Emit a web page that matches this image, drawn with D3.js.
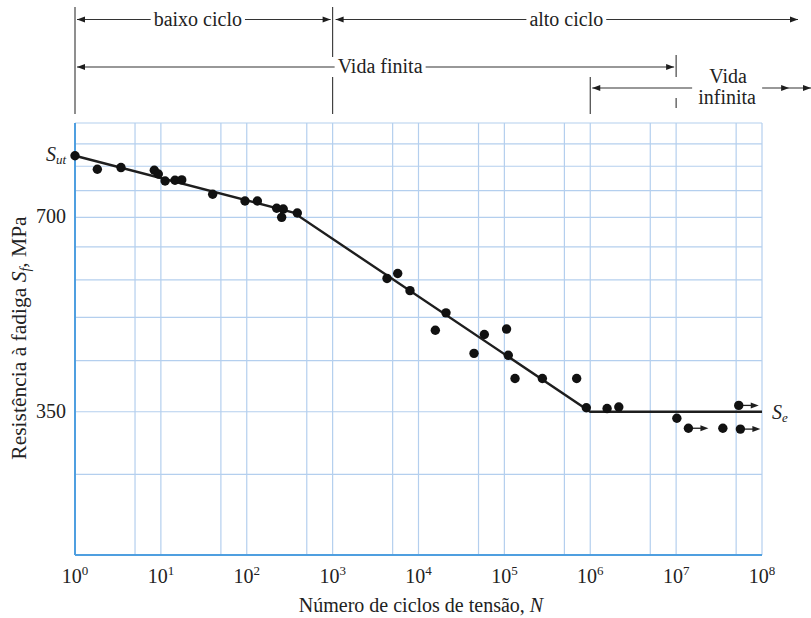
<!DOCTYPE html>
<html>
<head>
<meta charset="utf-8">
<script src="https://cdn.jsdelivr.net/npm/d3@7"></script>
<style>
  body { margin: 0; background: #fff; }
  svg { display: block; }
  text { font-family: "Liberation Serif", "DejaVu Serif", serif; fill: #222; }
</style>
</head>
<body>
<div id="chart"></div>
<script>
// axis / grid values
const decades = [1, 1e1, 1e2, 1e3, 1e4, 1e5, 1e6, 1e7, 1e8];
const halfDecades = [5, 5e1, 5e2, 5e3, 5e4, 5e5, 5e6, 5e7];
const stressGrid = [210, 280, 350, 420, 490, 560, 630, 700, 770, 840, 910, 980];
const stressTicks = [700, 350];

// fitted S-N curve (MPa)
const Sut = 872, Se = 350;
const curveN = [1, 350, 1e6, 1e8];
const curveS = [872, 712, 350, 350];

// test results
const testN = [1, 1.82, 3.43, 8.38, 9.33, 11.2, 14.6, 17.5, 40.1, 95.4, 133, 223, 266, 255, 388,
  4300, 5725, 7960, 20900, 15700, 58400, 106000, 44300, 111000, 133000, 277000, 695000,
  900000, 1.57e6, 2.15e6, 1.02e7, 3.5e7];
const testS = [872, 831, 836, 828, 817, 797, 799, 800, 760, 742, 742, 723, 721, 700, 711,
  563, 573, 539, 498, 468, 461, 470, 431, 428, 394, 394, 394,
  355, 354, 356, 342, 330];
// runouts (no failure)
const runoutN = [1.39e7, 5.6e7, 5.36e7];
const runoutS = [330, 329, 358];

const W = 811, H = 618;
const svg = d3.select('#chart').append('svg').attr('width', W).attr('height', H);

const x = d3.scaleLog().domain([1, 1e8]).range([75, 762]);
const y = d3.scaleLog().domain([210, 980]).range([555, 123]);

const gridCol = '#b4cfee', axisCol = '#4f9fe0', ink = '#1e1e1e';
const fs = 20;

// grid
const grid = svg.append('g');
grid.selectAll('line.v')
  .data(decades.concat(halfDecades))
  .enter().append('line')
    .attr('x1', d => x(d)).attr('x2', d => x(d))
    .attr('y1', y(980)).attr('y2', y(210))
    .attr('stroke', gridCol).attr('stroke-width', 1.2);
grid.selectAll('line.h')
  .data(stressGrid)
  .enter().append('line')
    .attr('x1', x(1)).attr('x2', x(1e8))
    .attr('y1', d => y(d)).attr('y2', d => y(d))
    .attr('stroke', gridCol).attr('stroke-width', 1.2);

// axes lines
svg.append('line').attr('x1', x(1)).attr('x2', x(1))
  .attr('y1', y(980)).attr('y2', y(210)).attr('stroke', axisCol).attr('stroke-width', 2);
svg.append('line').attr('x1', x(1)).attr('x2', x(1e8))
  .attr('y1', y(210)).attr('y2', y(210)).attr('stroke', axisCol).attr('stroke-width', 2);

// x tick labels 10^k
const xl = svg.append('g').attr('font-size', fs);
decades.forEach(d => {
  const t = xl.append('text').attr('x', x(d)).attr('y', 583).attr('text-anchor', 'middle');
  t.append('tspan').text('10');
  t.append('tspan').attr('dy', -8).attr('font-size', 13).text(Math.round(Math.log10(d)));
});

// y tick labels
svg.selectAll('text.ytick')
  .data(stressTicks)
  .enter().append('text')
    .attr('x', 66).attr('y', d => y(d) + 6)
    .attr('text-anchor', 'end').attr('font-size', fs)
    .text(d => d);

// S_ut label
const sut = svg.append('text').attr('x', 66).attr('y', y(Sut) + 5)
  .attr('text-anchor', 'end').attr('font-size', fs);
sut.append('tspan').attr('font-style', 'italic').text('S');
sut.append('tspan').attr('font-size', 13).attr('font-style', 'italic').attr('dy', 3).text('ut');

// S_e label
const se = svg.append('text').attr('x', 772).attr('y', y(Se) + 7).attr('font-size', fs);
se.append('tspan').attr('font-style', 'italic').text('S');
se.append('tspan').attr('font-size', 13).attr('font-style', 'italic').attr('dy', 3).text('e');

// axis titles
const xt = svg.append('text').attr('x', 421).attr('y', 612)
  .attr('text-anchor', 'middle').attr('font-size', fs);
xt.append('tspan').text('Número de ciclos de tensão, ');
xt.append('tspan').attr('font-style', 'italic').text('N');

const yt = svg.append('text')
  .attr('transform', 'translate(26,338) rotate(-90)')
  .attr('text-anchor', 'middle').attr('font-size', 21.5);
yt.append('tspan').text('Resistência à fadiga ');
yt.append('tspan').attr('font-style', 'italic').text('S');
yt.append('tspan').attr('font-style', 'italic').attr('font-size', 14).attr('dy', 4).text('f');
yt.append('tspan').attr('dy', -4).text(', MPa');

// S-N curve
const line = d3.line().x(d => x(d[0])).y(d => y(d[1]));
svg.append('path')
  .datum(d3.zip(curveN, curveS))
  .attr('d', line)
  .attr('fill', 'none').attr('stroke', ink).attr('stroke-width', 2.4);

// arrowhead helper
function arrowHead(g, tx, ty, dir, len = 8, half = 3) {
  g.append('path')
    .attr('d', `M${tx},${ty}L${tx - dir * len},${ty - half}L${tx - dir * len},${ty + half}Z`)
    .attr('fill', ink);
}

// runout arrows
const ro = svg.append('g');
d3.zip(runoutN, runoutS).forEach(([n, s]) => {
  const px = x(n), py = y(s);
  ro.append('line').attr('x1', px).attr('x2', px + 14).attr('y1', py).attr('y2', py)
    .attr('stroke', ink).attr('stroke-width', 1.3);
  arrowHead(ro, px + 20, py, 1, 8, 3);
});

// dots
svg.append('g').selectAll('circle')
  .data(d3.zip(testN.concat(runoutN), testS.concat(runoutS)))
  .enter().append('circle')
    .attr('cx', d => x(d[0])).attr('cy', d => y(d[1]))
    .attr('r', 4.7).attr('fill', '#111');

// region annotations above the plot
const ann = svg.append('g');
const annLine = (x1, x2, yy) => ann.append('line')
  .attr('x1', x1).attr('x2', x2).attr('y1', yy).attr('y2', yy)
  .attr('stroke', '#333').attr('stroke-width', 1.1);
const vLine = (xx, y1, y2) => ann.append('line')
  .attr('x1', xx).attr('x2', xx).attr('y1', y1).attr('y2', y2)
  .attr('stroke', '#333').attr('stroke-width', 1.1);

// text with arrows on both sides
function spanLabel(label, left, right, cx, yy, anchor = 'middle') {
  const t = ann.append('text').attr('x', cx).attr('y', yy + 6)
    .attr('text-anchor', anchor).attr('font-size', fs).text(label);
  const bb = t.node().getBBox();
  annLine(left, bb.x - 3, yy);
  annLine(bb.x + bb.width + 3, right, yy);
  arrowHead(ann, left, yy, -1);
  arrowHead(ann, right, yy, 1);
}

vLine(x(1), 7, 114);
vLine(x(1e3), 7, 57);
vLine(x(1e3), 77, 114);
vLine(x(1e6), 77, 114);
vLine(x(1e7), 55, 77);
vLine(x(1e7), 98, 108);

spanLabel('baixo ciclo', x(1) + 2, x(1e3) - 2, (x(1) + x(1e3)) / 2 - 6, 19.5);
spanLabel('alto ciclo', x(1e3) + 3, 798, (x(1e3) + 800) / 2, 19.5);
spanLabel('Vida finita', x(1) + 2, x(1e7) - 2, x(1e3) + 5, 67, 'start');

// infinite life row
const rowY = 88;
annLine(x(1e6) + 2, x(1e7) + 16, rowY);
arrowHead(ann, x(1e6) + 2, rowY, -1);
annLine(x(1e7) + 86, W, rowY);
arrowHead(ann, x(1e7) + 113, rowY, 1);
arrowHead(ann, W, rowY, 1);
ann.append('text').attr('x', x(1e7) + 52).attr('y', 83)
  .attr('text-anchor', 'middle').attr('font-size', fs).text('Vida');
ann.append('text').attr('x', x(1e7) + 51).attr('y', 104)
  .attr('text-anchor', 'middle').attr('font-size', fs).text('infinita');
</script>
</body>
</html>
